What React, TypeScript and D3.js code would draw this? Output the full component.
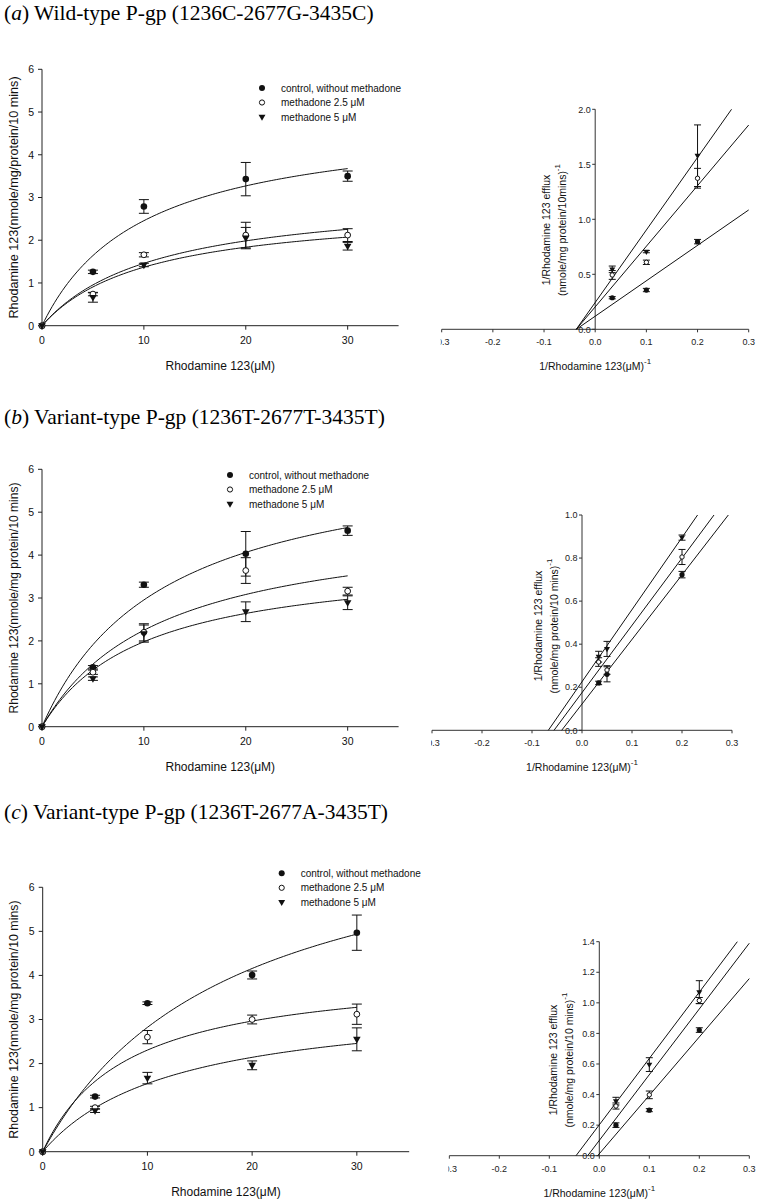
import React from "react";
import * as d3 from "d3";

// ---------- shared categories / ticks ----------
const concentrations = [0, 5, 10, 20, 30];
const seriesLabels = ["control, without methadone", "methadone 2.5 μM", "methadone 5 μM"];
const seriesMarkers = ["filled", "open", "triangle"];
const mainXTicks = [0, 10, 20, 30];
const mainYTicks = [0, 1, 2, 3, 4, 5, 6];
const insetXTicks = [-0.3, -0.2, -0.1, 0, 0.1, 0.2, 0.3];
const insetYTicksA = [0, 0.5, 1.0, 1.5, 2.0];
const insetYTicksB = [0, 0.2, 0.4, 0.6, 0.8, 1.0];
const insetYTicksC = [0, 0.2, 0.4, 0.6, 0.8, 1.0, 1.2, 1.4];

// ---------- panel (a) ----------
const aControl = [0, 1.26, 2.79, 3.43, 3.5];
const aControlErr = [0, 0.04, 0.16, 0.39, 0.12];
const aM25 = [0, 0.74, 1.66, 2.12, 2.12];
const aM25Err = [0, 0.04, 0.05, 0.3, 0.15];
const aM5 = [0, 0.66, 1.42, 2.05, 1.86];
const aM5Err = [0, 0.11, 0.04, 0.25, 0.09];
const aFitVmax = [4.89, 3.1, 2.79];
const aFitKm = [9.9, 11.24, 10.38];

const aInvX = [0.0333, 0.1, 0.2];
const aInvControl = [0.287, 0.357, 0.797];
const aInvControlErr = [0.01, 0.015, 0.02];
const aInvM25 = [0.494, 0.609, 1.373];
const aInvM25Err = [0.04, 0.02, 0.09];
const aInvM5 = [0.545, 0.706, 1.578];
const aInvM5Err = [0.03, 0.01, 0.28];
const aLineSlope = [3.22, 5.51, 6.59];
const aLineIntercept = [0.119, 0.204, 0.244];

// ---------- panel (b) ----------
const bControl = [0, 1.385, 3.31, 4.03, 4.57];
const bControlErr = [0, 0.04, 0.06, 0.52, 0.11];
const bM25 = [0, 1.27, 2.2, 3.64, 3.16];
const bM25Err = [0, 0.05, 0.2, 0.3, 0.09];
const bM5 = [0, 1.12, 2.17, 2.68, 2.89];
const bM5Err = [0, 0.04, 0.2, 0.23, 0.16];
const bFitVmax = [6.5, 4.9, 3.96];
const bFitKm = [12, 11.8, 10];

const bInvX = [0.0333, 0.05, 0.2];
const bInvControl = [0.22, 0.26, 0.723];
const bInvControlErr = [0.008, 0.035, 0.015];
const bInvM25 = [0.317, 0.28, 0.805];
const bInvM25Err = [0.02, 0.02, 0.035];
const bInvM5 = [0.342, 0.378, 0.895];
const bInvM5Err = [0.025, 0.035, 0.012];
const bLineSlope = [3.0, 3.125, 3.35];
const bLineIntercept = [0.122, 0.175, 0.2257];

// ---------- panel (c) ----------
const cControl = [0, 1.25, 3.37, 4.01, 4.97];
const cControlErr = [0, 0.03, 0.03, 0.09, 0.4];
const cM25 = [0, 1.0, 2.6, 3.0, 3.12];
const cM25Err = [0, 0.03, 0.15, 0.1, 0.23];
const cM5 = [0, 0.93, 1.67, 1.96, 2.55];
const cM5Err = [0, 0.04, 0.13, 0.1, 0.26];
const cFitVmax = [7.9, 4.15, 3.48];
const cFitKm = [18, 8, 12.5];

const cInvX = [0.0333, 0.1, 0.2];
const cInvControl = [0.2, 0.298, 0.822];
const cInvControlErr = [0.015, 0.01, 0.015];
const cInvM25 = [0.325, 0.398, 1.015];
const cInvM25Err = [0.02, 0.025, 0.02];
const cInvM5 = [0.357, 0.596, 1.07];
const cInvM5Err = [0.025, 0.045, 0.075];
const cLineSlope = [3.82, 4.3, 4.34];
const cLineIntercept = [0.0127, 0.1, 0.202];

const titles = [
  { tag: "a", rest: " Wild-type P-gp (1236C-2677G-3435C)" },
  { tag: "b", rest: " Variant-type P-gp (1236T-2677T-3435T)" },
  { tag: "c", rest: " Variant-type P-gp (1236T-2677A-3435T)" },
];

const SANS = "'Liberation Sans', Arial, sans-serif";
const SERIF = "'Liberation Serif', 'Times New Roman', serif";
const INK = "#111";

function Marker({ type, x, y, r }: { type: string; x: number; y: number; r: number }) {
  if (type === "triangle") {
    const s = r * 1.15;
    const p = d3.path();
    p.moveTo(x - s, y - r * 0.75);
    p.lineTo(x + s, y - r * 0.75);
    p.lineTo(x, y + r * 1.25);
    p.closePath();
    return <path d={p.toString()} fill={INK} />;
  }
  if (type === "open") {
    return <circle cx={x} cy={y} r={r - 0.4} fill="#fff" stroke={INK} strokeWidth={1} />;
  }
  return <circle cx={x} cy={y} r={r} fill={INK} />;
}

function ErrorBar({ x, y0, y1, cap }: { x: number; y0: number; y1: number; cap: number }) {
  return (
    <g stroke={INK} strokeWidth={1}>
      <line x1={x} x2={x} y1={y0} y2={y1} />
      <line x1={x - cap} x2={x + cap} y1={y0} y2={y0} />
      <line x1={x - cap} x2={x + cap} y1={y1} y2={y1} />
    </g>
  );
}

type MainProps = {
  xRange: [number, number];
  yRange: [number, number];
  values: number[][];
  errors: number[][];
  vmax: number[];
  km: number[];
  legendX: number;
  legendY: number;
  yLabel: string;
  yLabelSize: number;
};

function MainPanel(p: MainProps) {
  const x = d3.scaleLinear().domain([0, 35]).range(p.xRange);
  const y = d3.scaleLinear().domain([0, 6]).range(p.yRange);
  const sGrid = d3.range(0, 30.001, 0.25);
  const curves = p.vmax.map((V, i) =>
    d3
      .line<number>()
      .x((s) => x(s))
      .y((s) => y((V * s) / (p.km[i] + s)))(sGrid)
  );
  const midY = (p.yRange[0] + p.yRange[1]) / 2;
  const midX = (p.xRange[0] + p.xRange[1]) / 2;
  return (
    <g fontFamily={SANS} fill={INK}>
      <line x1={p.xRange[0]} x2={p.xRange[1]} y1={y(0)} y2={y(0)} stroke="#222" />
      <line x1={x(0)} x2={x(0)} y1={y(0)} y2={y(6)} stroke="#222" />
      {mainXTicks.map((t) => (
        <g key={"xt" + t}>
          <line x1={x(t)} x2={x(t)} y1={y(0)} y2={y(0) + 4} stroke="#222" />
          <text x={x(t)} y={y(0) + 18} fontSize={10.5} textAnchor="middle">
            {t}
          </text>
        </g>
      ))}
      {mainYTicks.map((t) => (
        <g key={"yt" + t}>
          <line x1={x(0) - 4} x2={x(0)} y1={y(t)} y2={y(t)} stroke="#222" />
          <text x={x(0) - 8} y={y(t) + 3.8} fontSize={10.5} textAnchor="end">
            {t}
          </text>
        </g>
      ))}
      <text x={midX} y={y(0) + 44} fontSize={12} textAnchor="middle">
        Rhodamine 123(μM)
      </text>
      <text
        transform={`translate(${17.5},${midY}) rotate(-90)`}
        fontSize={p.yLabelSize}
        textAnchor="middle"
      >
        {p.yLabel}
      </text>
      {curves.map((d, i) => (
        <path key={"c" + i} d={d || ""} fill="none" stroke={INK} strokeWidth={1} />
      ))}
      {p.values.map((vals, si) =>
        vals.map((v, k) =>
          p.errors[si][k] > 0 ? (
            <ErrorBar
              key={`e${si}-${k}`}
              x={x(concentrations[k])}
              y0={y(v + p.errors[si][k])}
              y1={y(v - p.errors[si][k])}
              cap={5}
            />
          ) : null
        )
      )}
      {p.values.map((vals, si) =>
        vals.map((v, k) => (
          <Marker key={`m${si}-${k}`} type={seriesMarkers[si]} x={x(concentrations[k])} y={y(v)} r={3.3} />
        ))
      )}
      {seriesLabels.map((lab, i) => (
        <g key={"lg" + i}>
          <Marker type={seriesMarkers[i]} x={p.legendX} y={p.legendY + i * 14.5} r={3} />
          <text x={p.legendX + 19} y={p.legendY + i * 14.5 + 3.6} fontSize={10}>
            {lab}
          </text>
        </g>
      ))}
    </g>
  );
}

type InsetProps = {
  id: string;
  xRange: [number, number];
  yRange: [number, number];
  yMax: number;
  yTicks: number[];
  xs: number[];
  values: number[][];
  errors: number[][];
  slopes: number[];
  intercepts: number[];
  yLabel2: string;
  yLabelDx: [number, number];
  yLabelCy: number;
};

function InsetPanel(p: InsetProps) {
  const x = d3.scaleLinear().domain([-0.3, 0.3]).range(p.xRange);
  const y = d3.scaleLinear().domain([0, p.yMax]).range(p.yRange);
  const fmt = (v: number) => v.toFixed(1);
  const lines = p.slopes.map((m, i) => {
    const b = p.intercepts[i];
    const x0 = -b / m;
    const x1 = Math.min(0.3, (p.yMax - b) / m);
    return d3
      .line<number>()
      .x((t) => x(t))
      .y((t) => y(m * t + b))([x0, x1]);
  });
  return (
    <g fontFamily={SANS} fill={INK}>
      <defs>
        <clipPath id={"clip" + p.id}>
          <rect x={x(-0.3) - 1} y={0} width={400} height={1300} />
        </clipPath>
      </defs>
      <line x1={x(-0.3)} x2={x(0.3)} y1={y(0)} y2={y(0)} stroke="#333" />
      <line x1={x(0)} x2={x(0)} y1={y(0)} y2={y(p.yMax)} stroke="#333" />
      <g clipPath={`url(#clip${p.id})`}>
        {insetXTicks.map((t) => (
          <g key={"xt" + t}>
            <line x1={x(t)} x2={x(t)} y1={y(0)} y2={y(0) + 3} stroke="#333" />
            <text x={x(t)} y={y(0) + 16} fontSize={9} textAnchor="middle" fill="#222">
              {fmt(t)}
            </text>
          </g>
        ))}
      </g>
      {p.yTicks.map((t) => (
        <g key={"yt" + t}>
          <line x1={x(0) - 3} x2={x(0)} y1={y(t)} y2={y(t)} stroke="#333" />
          <text x={x(0) - 4.5} y={y(t) + 3.2} fontSize={9} textAnchor="end" fill="#222">
            {fmt(t)}
          </text>
        </g>
      ))}
      <text x={x(0)} y={y(0) + 41} fontSize={10.5} textAnchor="middle">
        1/Rhodamine 123(μM)
        <tspan fontSize={8} dy={-6}>
          -1
        </tspan>
      </text>
      <text
        transform={`translate(${x(0) + p.yLabelDx[0]},${p.yLabelCy}) rotate(-90)`}
        fontSize={10.5}
        textAnchor="middle"
      >
        1/Rhodamine 123 efflux
      </text>
      <text
        transform={`translate(${x(0) + p.yLabelDx[1]},${p.yLabelCy}) rotate(-90)`}
        fontSize={10.5}
        textAnchor="middle"
      >
        {p.yLabel2}
        <tspan fontSize={8} dy={-6}>
          -1
        </tspan>
      </text>
      {lines.map((d, i) => (
        <path key={"l" + i} d={d || ""} fill="none" stroke={INK} strokeWidth={1} />
      ))}
      {p.values.map((vals, si) =>
        vals.map((v, k) => (
          <ErrorBar
            key={`e${si}-${k}`}
            x={x(p.xs[k])}
            y0={y(v + p.errors[si][k])}
            y1={y(v - p.errors[si][k])}
            cap={3.5}
          />
        ))
      )}
      {p.values.map((vals, si) =>
        vals.map((v, k) => (
          <Marker key={`m${si}-${k}`} type={seriesMarkers[si]} x={x(p.xs[k])} y={y(v)} r={2.6} />
        ))
      )}
    </g>
  );
}

export default function App() {
  return (
    <svg
      width={759}
      height={1202}
      style={{ position: "absolute", left: 0, top: 0, background: "#fff" }}
    >
      <rect x={0} y={0} width={759} height={1202} fill="#fff" />
      {[20, 424, 819].map((by, i) => (
        <text key={"t" + i} x={4} y={by} fontFamily={SERIF} fontSize={21.5} fill="#000">
          (<tspan fontStyle="italic">{titles[i].tag}</tspan>){titles[i].rest}
        </text>
      ))}

      <MainPanel
        xRange={[42, 398.6]}
        yRange={[325.7, 69.3]}
        values={[aControl, aM25, aM5]}
        errors={[aControlErr, aM25Err, aM5Err]}
        vmax={aFitVmax}
        km={aFitKm}
        legendX={262}
        legendY={88}
        yLabel="Rhodamine 123(nmole/mg/protein/10 mins)"
        yLabelSize={12.6}
      />
      <InsetPanel
        id="a"
        xRange={[441.7, 748.7]}
        yRange={[329.3, 109.3]}
        yMax={2.0}
        yTicks={insetYTicksA}
        xs={aInvX}
        values={[aInvControl, aInvM25, aInvM5]}
        errors={[aInvControlErr, aInvM25Err, aInvM5Err]}
        slopes={aLineSlope}
        intercepts={aLineIntercept}
        yLabel2="(nmole/mg protein/10mins)"
        yLabelDx={[-45, -29]}
        yLabelCy={230}
      />

      <MainPanel
        xRange={[42, 398.6]}
        yRange={[726.7, 469.3]}
        values={[bControl, bM25, bM5]}
        errors={[bControlErr, bM25Err, bM5Err]}
        vmax={bFitVmax}
        km={bFitKm}
        legendX={230}
        legendY={475}
        yLabel="Rhodamine 123(nmole/mg protein/10 mins)"
        yLabelSize={12}
      />
      <InsetPanel
        id="b"
        xRange={[432, 732]}
        yRange={[730.3, 515]}
        yMax={1.0}
        yTicks={insetYTicksB}
        xs={bInvX}
        values={[bInvControl, bInvM25, bInvM5]}
        errors={[bInvControlErr, bInvM25Err, bInvM5Err]}
        slopes={bLineSlope}
        intercepts={bLineIntercept}
        yLabel2="(nmole/mg protein/10 mins)"
        yLabelDx={[-40, -24]}
        yLabelCy={626}
      />

      <MainPanel
        xRange={[42.7, 409.2]}
        yRange={[1151.7, 887.3]}
        values={[cControl, cM25, cM5]}
        errors={[cControlErr, cM25Err, cM5Err]}
        vmax={cFitVmax}
        km={cFitKm}
        legendX={281.7}
        legendY={873.3}
        yLabel="Rhodamine 123(nmole/mg protein/10 mins)"
        yLabelSize={12.4}
      />
      <InsetPanel
        id="c"
        xRange={[449.3, 749.3]}
        yRange={[1155.7, 941.7]}
        yMax={1.4}
        yTicks={insetYTicksC}
        xs={cInvX}
        values={[cInvControl, cInvM25, cInvM5]}
        errors={[cInvControlErr, cInvM25Err, cInvM5Err]}
        slopes={cLineSlope}
        intercepts={cLineIntercept}
        yLabel2="(nmole/mg protein/10 mins)"
        yLabelDx={[-42, -26]}
        yLabelCy={1060}
      />
    </svg>
  );
}
